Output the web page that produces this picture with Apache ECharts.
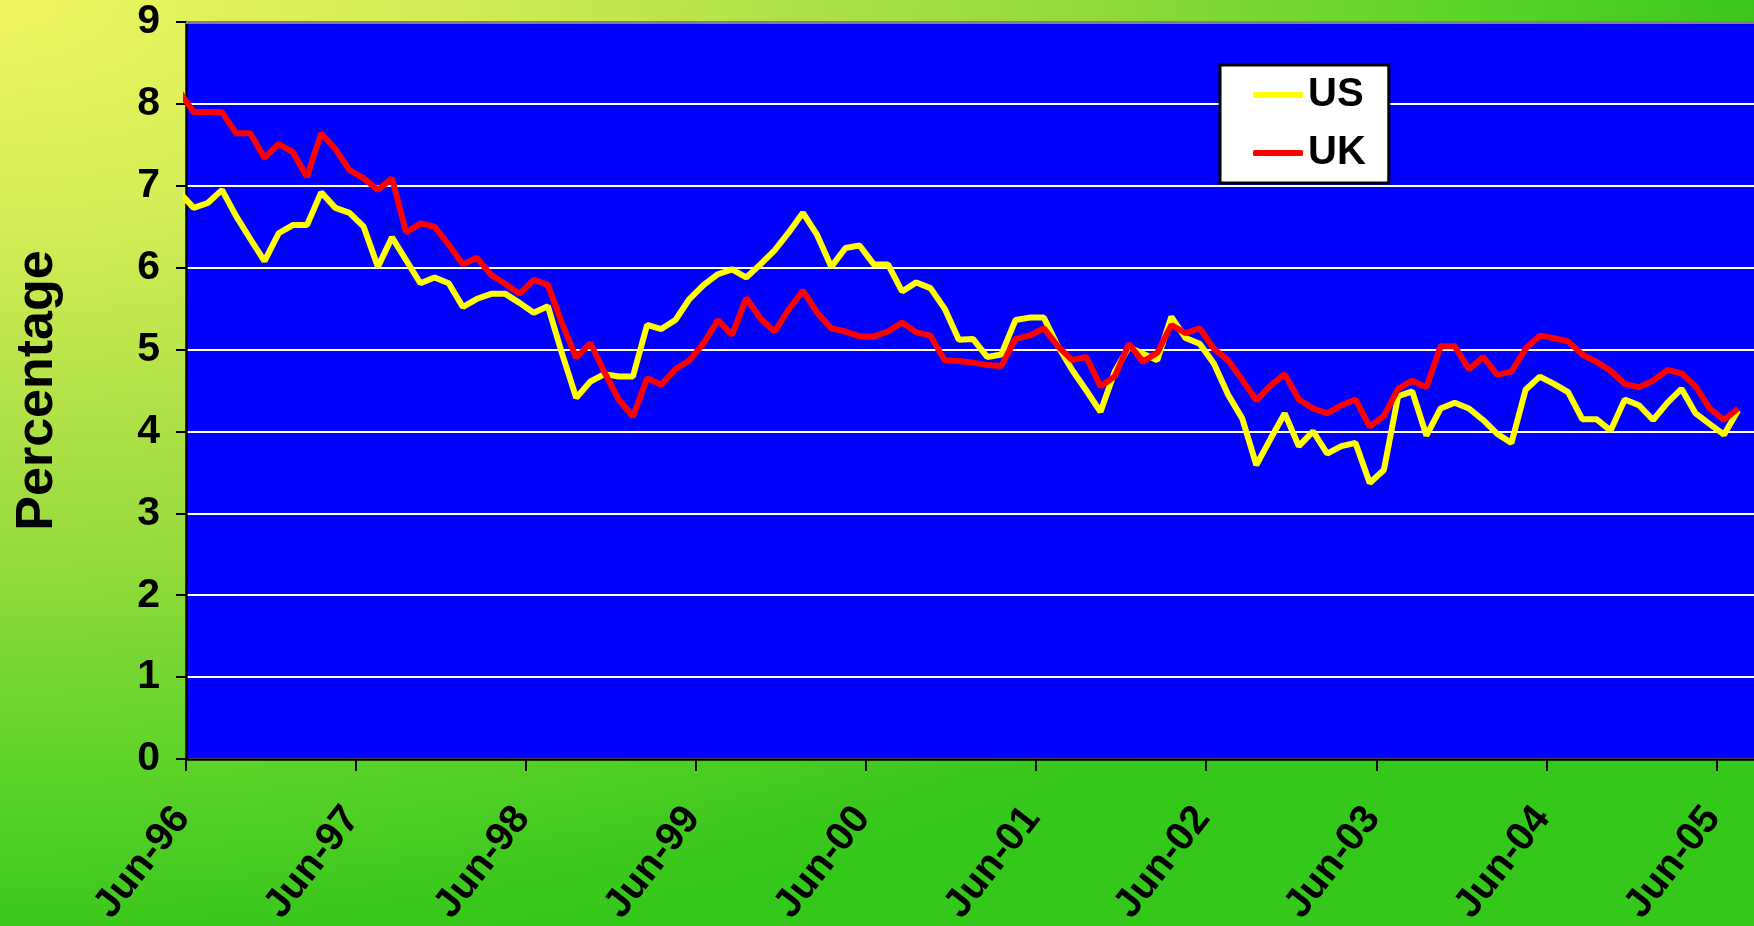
<!DOCTYPE html>
<html>
<head>
<meta charset="utf-8">
<script src="https://cdn.jsdelivr.net/npm/echarts@6/dist/echarts.min.js"></script>
<style>
  html, body { margin: 0; padding: 0; }
  #chart {
    width: 1754px;
    height: 926px;
    background: radial-gradient(ellipse 105% 105% at 0 0,
      #f0f660 0%, #d2ec55 24%, #94da3c 58%, #5fd42a 78%, #3cc81e 95%, #34c81a 100%);
  }
</style>
</head>
<body>
<div id="chart"></div>
<script>
// monthly observations, mid-month, May-96 .. Jul-05
const firstMonth = { year: 1996, month: 5 };

const us = [
  6.92, 6.73, 6.79, 6.95, 6.63, 6.35, 6.08, 6.42, 6.52, 6.52, 6.92, 6.73, 6.67,
  6.50, 6.01, 6.37, 6.09, 5.81, 5.88, 5.81, 5.52, 5.62, 5.68, 5.68, 5.57,
  5.45, 5.53, 4.95, 4.41, 4.61, 4.70, 4.67, 4.67, 5.30, 5.25, 5.36, 5.62,
  5.79, 5.92, 5.98, 5.88, 6.04, 6.21, 6.43, 6.67, 6.40, 6.01, 6.24, 6.27,
  6.04, 6.04, 5.71, 5.82, 5.75, 5.50, 5.12, 5.13, 4.91, 4.94, 5.36, 5.39,
  5.39, 5.04, 4.75, 4.50, 4.24, 4.73, 5.03, 4.95, 4.87, 5.40, 5.14, 5.07,
  4.83, 4.45, 4.16, 3.59, 3.91, 4.22, 3.82, 4.00, 3.73, 3.82, 3.86, 3.37,
  3.53, 4.43, 4.49, 3.95, 4.28, 4.35, 4.28, 4.14, 3.97, 3.86, 4.51, 4.67,
  4.58, 4.48, 4.15, 4.15, 4.01, 4.39, 4.32, 4.14, 4.35, 4.52, 4.22, 4.09,
  3.96, 4.26
];

const uk = [
  8.15, 7.90, 7.90, 7.90, 7.64, 7.64, 7.34, 7.51, 7.41, 7.11, 7.64, 7.45, 7.19,
  7.09, 6.95, 7.09, 6.43, 6.54, 6.50, 6.28, 6.04, 6.12, 5.91, 5.80, 5.68,
  5.85, 5.79, 5.32, 4.90, 5.08, 4.72, 4.39, 4.18, 4.65, 4.57, 4.76, 4.87,
  5.08, 5.36, 5.18, 5.63, 5.38, 5.22, 5.49, 5.72, 5.45, 5.26, 5.22, 5.16,
  5.16, 5.22, 5.33, 5.21, 5.17, 4.87, 4.86, 4.84, 4.81, 4.80, 5.13, 5.17,
  5.26, 5.04, 4.87, 4.91, 4.55, 4.67, 5.07, 4.85, 4.96, 5.30, 5.20, 5.26,
  5.01, 4.87, 4.63, 4.38, 4.56, 4.70, 4.39, 4.28, 4.22, 4.32, 4.39, 4.06,
  4.19, 4.52, 4.62, 4.54, 5.04, 5.04, 4.76, 4.91, 4.69, 4.73, 5.01, 5.17,
  5.14, 5.10, 4.94, 4.85, 4.74, 4.58, 4.54, 4.62, 4.75, 4.71, 4.55, 4.28,
  4.14, 4.28
];

const tickLabels = ['Jun-96', 'Jun-97', 'Jun-98', 'Jun-99', 'Jun-00',
  'Jun-01', 'Jun-02', 'Jun-03', 'Jun-04', 'Jun-05'];

// x axis counts months from 1 Jun 1996
const axisStart = { year: 1996, month: 6 };
const axisEndMonths = 110.8;

const monthPos = (i) => {
  const m = (firstMonth.year - axisStart.year) * 12 + (firstMonth.month - axisStart.month) + i;
  return m + 0.54; // observation taken mid-month
};

const toPoints = (vals) => vals.map((v, i) => [monthPos(i), v]);

const font = '"Liberation Sans", Arial, sans-serif';

const chart = echarts.init(document.getElementById('chart'));

chart.setOption({
  backgroundColor: 'transparent',
  animation: false,
  grid: {
    left: 186,
    right: -2,
    top: 22,
    bottom: 167,
    containLabel: false,
    outerBoundsMode: 'none',
    show: true,
    backgroundColor: '#0000ff',
    borderWidth: 0
  },
  legend: {
    left: 1220,
    top: 65,
    orient: 'vertical',
    backgroundColor: '#ffffff',
    borderColor: '#000000',
    borderWidth: 3,
    padding: [10, 23, 10, 33],
    itemGap: 18,
    itemWidth: 50,
    itemHeight: 6,
    icon: 'roundRect',
    textStyle: { fontFamily: font, fontSize: 40, fontWeight: 'bold', color: '#000' },
    data: ['US', 'UK']
  },
  xAxis: [
    {
      type: 'value',
      min: 0,
      max: axisEndMonths,
      interval: 12,
      axisLine: { lineStyle: { color: '#000', width: 2.5 } },
      axisTick: { length: 12, lineStyle: { color: '#000', width: 2 } },
      splitLine: { show: false },
      axisLabel: {
        rotate: 52,
        margin: 48,
        padding: [0, 6, 0, 0],
        fontFamily: font,
        fontSize: 40,
        fontWeight: 'bold',
        color: '#000',
        showMaxLabel: false,
        formatter: (v) => (v % 12 === 0 ? tickLabels[v / 12] || '' : '')
      }
    },
    {
      type: 'value',
      position: 'top',
      min: 0,
      max: axisEndMonths,
      axisLine: { lineStyle: { color: '#808080', width: 3 } },
      axisTick: { show: false },
      axisLabel: { show: false },
      splitLine: { show: false }
    }
  ],
  yAxis: {
    type: 'value',
    min: 0,
    max: 9,
    interval: 1,
    name: 'Percentage',
    nameLocation: 'middle',
    nameRotate: 90,
    nameGap: 122,
    nameTextStyle: { fontFamily: font, fontSize: 52, fontWeight: 'bold', color: '#000' },
    axisLine: { show: true, lineStyle: { color: '#000', width: 2.5 } },
    axisTick: { show: true, length: 10, lineStyle: { color: '#000', width: 2 } },
    splitLine: { lineStyle: { color: '#ffffff', width: 2 } },
    axisLabel: {
      margin: 26,
      fontFamily: font,
      fontSize: 41,
      fontWeight: 'bold',
      color: '#000'
    }
  },
  series: [
    {
      name: 'US',
      type: 'line',
      data: toPoints(us),
      showSymbol: false,
      color: '#ffff00',
      lineStyle: { color: '#ffff00', width: 6 }
    },
    {
      name: 'UK',
      type: 'line',
      data: toPoints(uk),
      showSymbol: false,
      color: '#ff0000',
      lineStyle: { color: '#ff0000', width: 6 }
    }
  ]
});
</script>
</body>
</html>
